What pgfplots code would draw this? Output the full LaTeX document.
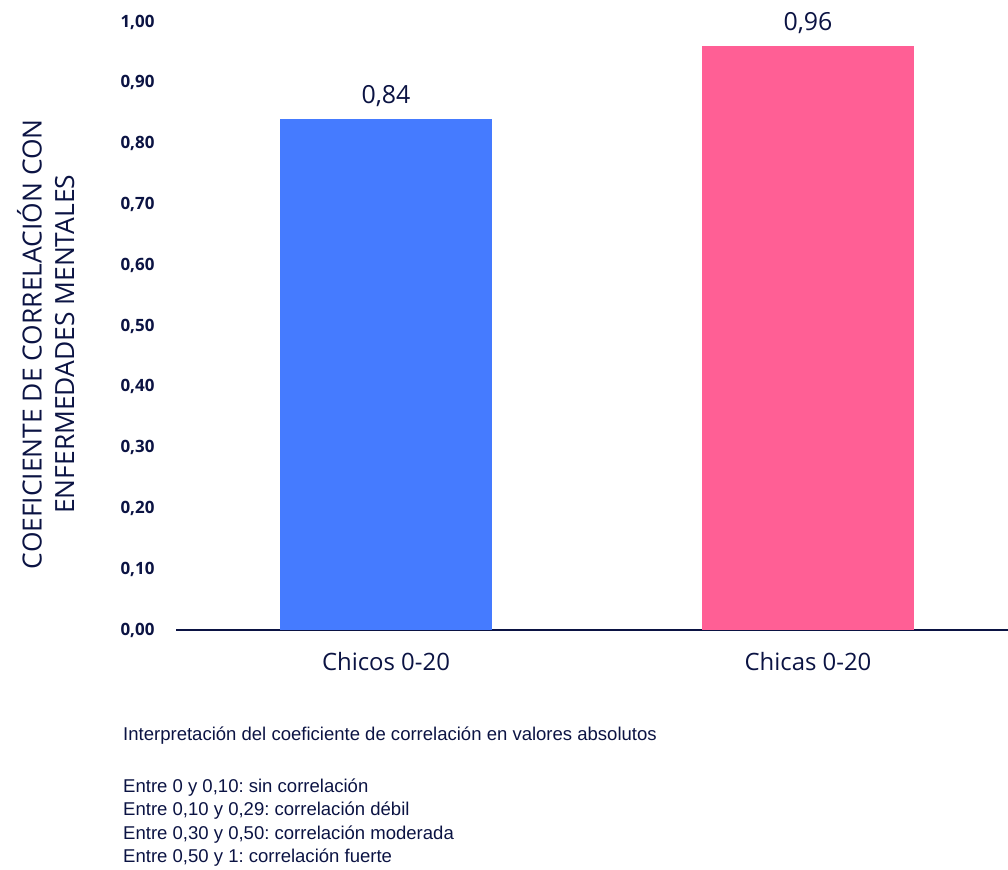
\documentclass[border=0pt]{standalone}
\usepackage{pgfplots}
\pgfplotsset{compat=1.18}
\usepackage{fontspec}
\setmainfont{Open Sans}
\newfontfamily\notefont{Liberation Sans}
\definecolor{navy}{HTML}{0B1343}
\definecolor{barblue}{HTML}{457BFF}
\definecolor{barpink}{HTML}{FF5F95}
\begin{document}
\begin{tikzpicture}
\useasboundingbox (0,0) rectangle (1008bp,870bp);
\begin{axis}[
  at={(176bp,240bp)}, anchor=south west,
  scale only axis, width=832bp, height=608bp,
  xmin=-0.4976, xmax=1.474, ymin=0, ymax=1,
  axis y line=none, axis x line*=bottom,
  axis line style={navy, line width=1.8bp, -},
  xtick={0,1}, xticklabels={Chicos 0-20, Chicas 0-20},
  xtick style={draw=none},
  xticklabel style={font=\fontsize{24}{28}\selectfont, text=navy, yshift=-19bp},
  bar width=212bp,
  nodes near coords,
  nodes near coords style={font=\fontsize{25}{30}\selectfont, text=navy, anchor=south, yshift=9bp,
     /pgf/number format/.cd, fixed, fixed zerofill, precision=2, use comma, assume math mode=true},
  clip=false,
]
\addplot[ybar, fill=barblue, draw=none] coordinates {(0,0.84)};
\addplot[ybar, fill=barpink, draw=none] coordinates {(1,0.96)};
\pgfplotsinvokeforeach{0,0.1,0.2,0.3,0.4,0.5,0.6,0.7,0.8,0.9,1.0}{
  \node[anchor=east, font=\bfseries\fontsize{17}{20}\selectfont, text=navy] at (axis cs:-0.4976,#1) [xshift=-18bp]
   {\pgfmathprintnumber[fixed, fixed zerofill, precision=2, use comma, assume math mode=true]{#1}};
}
\node[rotate=90, align=center, font=\fontsize{26.5}{32.5}\selectfont, text=navy] at (axis description cs:-0.1566,0.470)
  {COEFICIENTE DE CORRELACIÓN CON\\ENFERMEDADES MENTALES};
\end{axis}
\begin{scope}[every node/.style={anchor=base west, font=\notefont\fontsize{18.6}{22}\selectfont\frenchspacing, text=navy, inner sep=0pt}]
\node at (123bp,129bp) {Interpretación del coeficiente de correlación en valores absolutos};
\node at (123bp,77bp) {Entre 0 y 0,10: sin correlación};
\node at (123bp,54bp) {Entre 0,10 y 0,29: correlación débil};
\node at (123bp,31bp) {Entre 0,30 y 0,50: correlación moderada};
\node at (123bp,8bp) {Entre 0,50 y 1: correlación fuerte};
\end{scope}
\end{tikzpicture}
\end{document}
